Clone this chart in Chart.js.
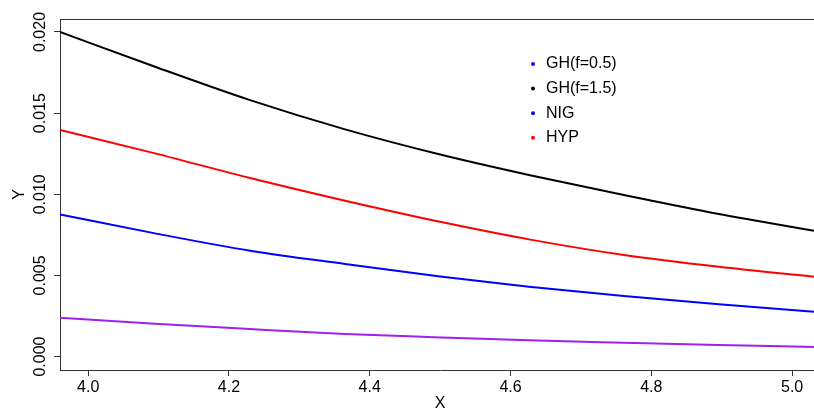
<!DOCTYPE html>
<html>
<head>
<meta charset="utf-8">
<script src="https://cdn.jsdelivr.net/npm/chart.js@4"></script>
<style>
  html, body { margin: 0; padding: 0; background: #fff; overflow: hidden; }
  #wrap { width: 830px; height: 413px; }
</style>
</head>
<body>
<div id="wrap"><canvas id="tails_chart"></canvas></div>
<script>
// values
const xs = [3.96, 4.095, 4.23, 4.365, 4.50, 4.626, 4.761, 4.896, 5.031];
const ghOneHalf = [0.0200, 0.01786, 0.0158, 0.01400, 0.01245, 0.01119, 0.00995, 0.00878, 0.00775];
const hyp = [0.01396, 0.01252, 0.01100, 0.00960, 0.00830, 0.00722, 0.00626, 0.00553, 0.00492];
const nig = [0.00876, 0.00759, 0.00652, 0.00570, 0.00493, 0.00430, 0.00373, 0.00322, 0.00276];
const ghHalf = [0.00239, 0.00202, 0.00169, 0.00139, 0.00118, 0.00100, 0.00085, 0.00071, 0.00059];

const legendLabels = ['GH(f=0.5)', 'GH(f=1.5)', 'NIG', 'HYP'];
const legendColors = ['#0000ff', '#000000', '#0000ff', '#ff0000'];

const font = 'Liberation Sans, Arial, Helvetica, sans-serif';
const ctx = document.getElementById('tails_chart').getContext('2d');

function pts(ys) {
  return xs.map((x, i) => ({ x: x, y: ys[i] }));
}

function line(label, ys, color) {
  return {
    label: label,
    data: pts(ys),
    borderColor: color,
    borderWidth: 2,
    pointRadius: 0,
    cubicInterpolationMode: 'monotone',
    fill: false
  };
}

// y tick labels (rotated like R), top frame line and the legend
const extras = {
  id: 'extras',
  afterDraw(chart) {
    const c = chart.ctx;
    const area = chart.chartArea;
    const y = chart.scales.y;
    c.save();
    c.strokeStyle = '#333';
    c.lineWidth = 1;
    c.beginPath();
    c.moveTo(area.left, area.top + 0.5);
    c.lineTo(area.right, area.top + 0.5);
    c.stroke();

    c.fillStyle = '#000';
    c.font = '16px ' + font;
    c.textAlign = 'center';
    c.textBaseline = 'middle';
    y.ticks.forEach(t => {
      const py = y.getPixelForValue(t.value);
      c.save();
      c.translate(41, py);
      c.rotate(-Math.PI / 2);
      c.fillText(t.value.toFixed(3), 0, 0);
      c.restore();
    });

    c.textAlign = 'left';
    legendLabels.forEach((lab, i) => {
      const ly = 64 + i * 24.6;
      c.fillStyle = legendColors[i];
      c.beginPath();
      c.arc(533, ly, 2, 0, Math.PI * 2);
      c.fill();
      c.fillStyle = '#000';
      c.fillText(lab, 546, ly);
    });
    c.restore();
  }
};

const config = {
  type: 'line',
  data: {
    datasets: [
      line('GH(f=1.5)', ghOneHalf, '#000000'),
      line('HYP', hyp, '#ff0000'),
      line('NIG', nig, '#0000ff'),
      line('GH(f=0.5)', ghHalf, '#a020f0')
    ]
  },
  options: {
    responsive: true,
    maintainAspectRatio: false,
    animation: false,
    layout: { padding: { top: 19, right: 10, left: 0, bottom: 0 } },
    plugins: {
      legend: { display: false },
      tooltip: { enabled: false }
    },
    scales: {
      x: {
        type: 'linear',
        min: 3.96,
        max: 5.0396,
        afterFit: s => { s.height = 43; },
        border: { display: true, color: '#333', width: 1 },
        grid: { drawOnChartArea: false, drawTicks: true, tickLength: 6, color: '#333' },
        ticks: {
          stepSize: 0.2,
          includeBounds: false,
          padding: 2,
          color: '#000',
          font: { family: font, size: 16 },
          callback: v => v.toFixed(1)
        },
        title: {
          display: true, text: 'X', color: '#000',
          font: { family: font, size: 16 },
          padding: { top: 0, bottom: 0 }
        }
      },
      y: {
        min: -0.00083,
        max: 0.0208,
        afterFit: s => { s.width = 60; },
        border: { display: true, color: '#333', width: 1 },
        grid: { drawOnChartArea: false, drawTicks: true, tickLength: 6, color: '#333' },
        ticks: { stepSize: 0.005, includeBounds: false, display: false },
        title: {
          display: true, text: 'Y', color: '#000',
          font: { family: font, size: 16 },
          padding: { top: 10, bottom: 0 }
        }
      }
    }
  },
  plugins: [extras]
};

const tails_chart = new Chart(ctx, config);
</script>
</body>
</html>
